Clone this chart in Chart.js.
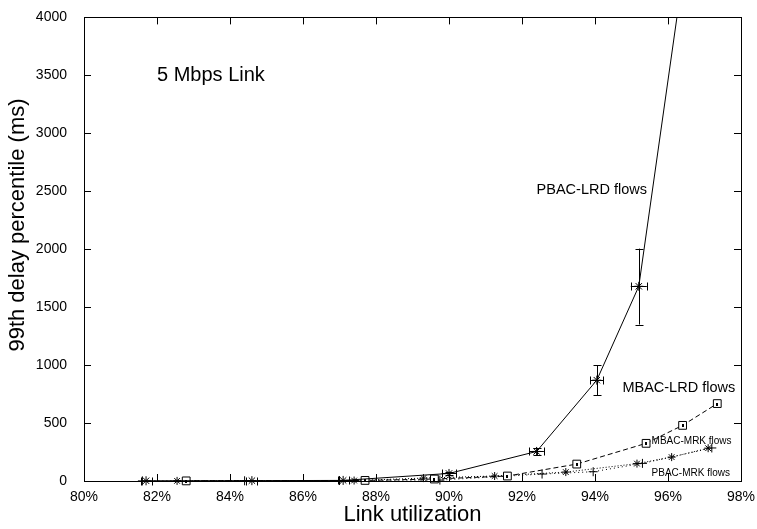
<!DOCTYPE html>
<html>
<head>
<meta charset="utf-8">
<script src="https://cdn.jsdelivr.net/npm/chart.js@4/dist/chart.umd.min.js"></script>
<style>
  html, body { margin: 0; padding: 0; background: #fff; }
  #wrap { width: 757px; height: 529px; }
</style>
</head>
<body>
<div id="wrap"><canvas id="chart" width="757" height="529"></canvas></div>
<script>
// tick labels
const xTicks = [80, 82, 84, 86, 88, 90, 92, 94, 96, 98];
const yTicks = [0, 500, 1000, 1500, 2000, 2500, 3000, 3500, 4000];

// PBAC-LRD flows (solid, with error bars)
const pbacLrdX = [81.7, 84.6, 87.1, 90.0, 92.4, 94.05, 95.2, 97.1];
const pbacLrdY = [2, 3, 5, 65, 255, 870, 1680, 5900];
const pbacLrdLow = [2, 3, 5, 50, 225, 740, 1350, 5900];
const pbacLrdHigh = [2, 3, 5, 80, 285, 1000, 2005, 5900];
const pbacLrdXErr = [0.15, 0.15, 0.15, 0.2, 0.2, 0.18, 0.22, 0];

// MBAC-LRD flows (dashed, squares)
const mbacLrdX = [82.8, 87.7, 89.6, 91.6, 93.5, 95.4, 96.4, 97.35];
const mbacLrdY = [1, 5, 17, 43, 146, 325, 480, 668];

// MBAC-MRK flows (dotted, stars)
const mbacMrkX = [82.55, 87.4, 89.3, 91.25, 93.2, 95.15, 96.1, 97.1];
const mbacMrkY = [1, 4, 25, 43, 77, 150, 206, 283];

// PBAC-MRK flows (dotted, crosses)
const pbacMrkX = [81.6, 84.4, 87.0, 89.75, 92.55, 93.95, 95.3, 97.2];
const pbacMrkY = [1, 2, 4, 8, 60, 80, 152, 285];

// text labels placed in data coordinates
const notes = [
  { text: "5 Mbps Link", x: 82.0, y: 3500, size: 20 },
  { text: "PBAC-LRD flows", x: 92.4, y: 2510, size: 14.5 },
  { text: "MBAC-LRD flows", x: 94.75, y: 805, size: 14.5 },
  { text: "MBAC-MRK flows", x: 95.55, y: 345, size: 10 },
  { text: "PBAC-MRK flows", x: 95.55, y: 70, size: 10 }
];
const yTitle = "99th delay percentile (ms)";

const FONT = "'Liberation Sans', Arial, sans-serif";
Chart.defaults.font.family = FONT;
Chart.defaults.color = "#000";

const pts = (xs, ys) => xs.map((x, i) => ({ x: x, y: ys[i] }));

const line = (label, xs, ys, dash, style, radius) => ({
  label: label,
  data: pts(xs, ys),
  borderColor: "#000",
  backgroundColor: "#fff",
  borderWidth: 1,
  borderDash: dash,
  pointStyle: style,
  pointRadius: radius,
  pointBorderColor: "#000",
  pointBorderWidth: 1,
  pointBackgroundColor: "#fff",
  tension: 0,
  clip: { left: 10, top: 0, right: 10, bottom: 10 }
});

const frame = {
  id: "frame",
  afterDatasetsDraw(chart) {
    const { ctx, chartArea: a, scales } = chart;
    const x = scales.x, y = scales.y;
    ctx.save();
    ctx.strokeStyle = "#000";
    ctx.lineWidth = 1;

    // error bars for PBAC-LRD
    ctx.beginPath();
    ctx.rect(a.left, a.top, a.right - a.left, a.bottom - a.top + 10);
    ctx.clip();
    ctx.beginPath();
    pbacLrdX.forEach((v, i) => {
      const px = Math.round(x.getPixelForValue(v)) + 0.5;
      const py = Math.round(y.getPixelForValue(pbacLrdY[i])) + 0.5;
      const lo = y.getPixelForValue(pbacLrdLow[i]);
      const hi = y.getPixelForValue(pbacLrdHigh[i]);
      if (hi < lo - 2) {
        ctx.moveTo(px, lo); ctx.lineTo(px, hi);
        ctx.moveTo(px - 4, Math.round(lo) + 0.5); ctx.lineTo(px + 4, Math.round(lo) + 0.5);
        ctx.moveTo(px - 4, Math.round(hi) + 0.5); ctx.lineTo(px + 4, Math.round(hi) + 0.5);
      }
      if (pbacLrdXErr[i] > 0) {
        const l = x.getPixelForValue(v - pbacLrdXErr[i]);
        const r = x.getPixelForValue(v + pbacLrdXErr[i]);
        ctx.moveTo(l, py); ctx.lineTo(r, py);
        ctx.moveTo(Math.round(l) + 0.5, py - 4); ctx.lineTo(Math.round(l) + 0.5, py + 4);
        ctx.moveTo(Math.round(r) + 0.5, py - 4); ctx.lineTo(Math.round(r) + 0.5, py + 4);
      }
    });
    ctx.stroke();

    // small dot inside each square marker
    ctx.fillStyle = "#000";
    mbacLrdX.forEach((v, i) => {
      const px = Math.round(x.getPixelForValue(v));
      const py = Math.round(y.getPixelForValue(mbacLrdY[i]));
      ctx.fillRect(px - 1, py - 1, 2, 3);
    });
    ctx.restore();

    ctx.save();
    ctx.strokeStyle = "#000";
    ctx.lineWidth = 1;
    // box
    ctx.strokeRect(Math.round(a.left) + 0.5, Math.round(a.top) + 0.5,
      Math.round(a.right - a.left), Math.round(a.bottom - a.top));
    // inward ticks
    ctx.beginPath();
    xTicks.forEach(v => {
      const px = Math.round(x.getPixelForValue(v)) + 0.5;
      ctx.moveTo(px, a.bottom); ctx.lineTo(px, a.bottom - 7);
      ctx.moveTo(px, a.top); ctx.lineTo(px, a.top + 7);
    });
    yTicks.forEach(v => {
      const py = Math.round(y.getPixelForValue(v)) + 0.5;
      ctx.moveTo(a.left, py); ctx.lineTo(a.left + 7, py);
      ctx.moveTo(a.right, py); ctx.lineTo(a.right - 7, py);
    });
    ctx.stroke();

    // text notes
    ctx.fillStyle = "#000";
    ctx.textBaseline = "middle";
    ctx.textAlign = "left";
    notes.forEach(n => {
      ctx.font = n.size + "px " + FONT;
      ctx.fillText(n.text, x.getPixelForValue(n.x), y.getPixelForValue(n.y));
    });

    // y axis title
    ctx.translate(18, 225);
    ctx.rotate(-Math.PI / 2);
    ctx.textAlign = "center";
    ctx.font = "22px " + FONT;
    ctx.fillText(yTitle, 0, 0);
    ctx.restore();
  }
};

new Chart(document.getElementById("chart"), {
  type: "line",
  data: {
    datasets: [
      line("PBAC-LRD flows", pbacLrdX, pbacLrdY, [], "star", 4.5),
      line("MBAC-LRD flows", mbacLrdX, mbacLrdY, [5, 3], "rect", 5.5),
      line("MBAC-MRK flows", mbacMrkX, mbacMrkY, [1, 2], "star", 4),
      line("PBAC-MRK flows", pbacMrkX, pbacMrkY, [1, 3], "cross", 4.5)
    ]
  },
  options: {
    responsive: false,
    animation: false,
    events: [],
    layout: { padding: { top: 14, right: 16, left: 0, bottom: 0 } },
    plugins: { legend: { display: false }, tooltip: { enabled: false } },
    scales: {
      x: {
        type: "linear",
        min: 80,
        max: 98,
        afterBuildTicks: s => { s.ticks = xTicks.map(v => ({ value: v })); },
        afterFit: s => { s.height = 48; },
        grid: { display: false },
        border: { display: true, color: "#000", width: 1 },
        ticks: { font: { size: 14 }, padding: 0, maxRotation: 0, callback: v => v + "%" },
        title: { display: true, text: "Link utilization", font: { size: 22 }, padding: { top: 0, bottom: 1 } }
      },
      y: {
        type: "linear",
        min: 0,
        max: 4000,
        afterBuildTicks: s => { s.ticks = yTicks.map(v => ({ value: v })); },
        afterFit: s => { s.width = 84; },
        grid: { display: false },
        border: { display: true, color: "#000", width: 1 },
        ticks: { font: { size: 14 }, padding: 9, callback: v => String(v) },
        title: { display: false }
      }
    }
  },
  plugins: [frame]
});
</script>
</body>
</html>
